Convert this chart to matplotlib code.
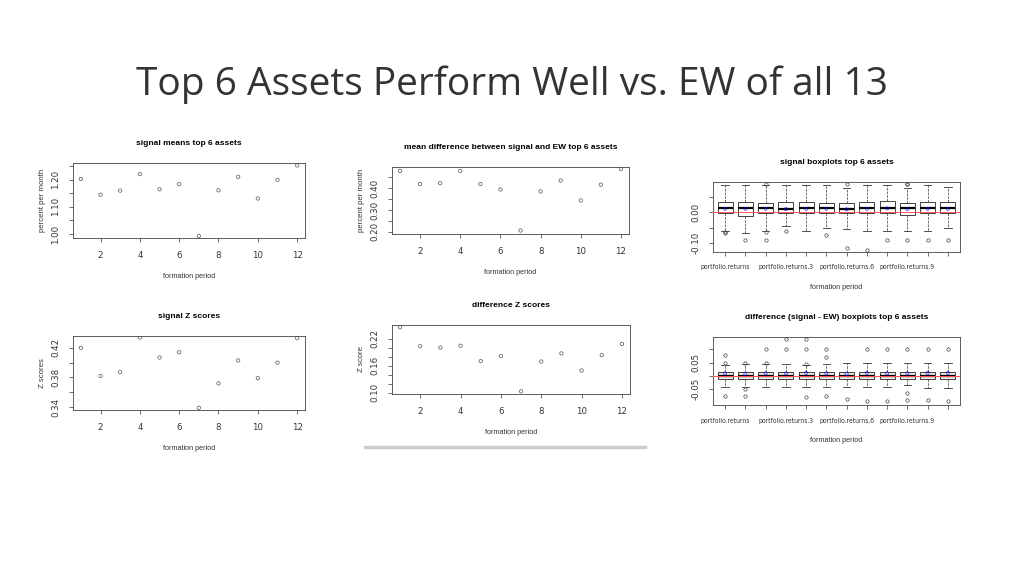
import matplotlib
matplotlib.use("Agg")
import matplotlib.pyplot as plt
import numpy as np

periods = list(range(1, 13))
signal_means = [1.203, 1.145, 1.160, 1.221, 1.165, 1.184, 0.993, 1.161, 1.211, 1.131, 1.200, 1.253]
mean_diff = [0.479, 0.419, 0.423, 0.479, 0.419, 0.394, 0.206, 0.385, 0.435, 0.344, 0.416, 0.488]
signal_z = [0.420, 0.382, 0.387, 0.434, 0.407, 0.414, 0.339, 0.372, 0.403, 0.379, 0.400, 0.433]
diff_z = [0.245, 0.203, 0.200, 0.204, 0.170, 0.181, 0.103, 0.169, 0.187, 0.149, 0.183, 0.208]

box_labels = ["portfolio.returns", "", "", "portfolio.returns.3", "", "", "portfolio.returns.6", "", "",
              "portfolio.returns.9", "", ""]
# signal boxplot stats
s_q1 = [-0.002, -0.012, -0.003, -0.003, -0.003, -0.003, -0.003, -0.003, -0.003, -0.010, -0.003, -0.003]
s_med = [0.013, 0.014, 0.013, 0.010, 0.012, 0.012, 0.011, 0.015, 0.013, 0.012, 0.012, 0.012]
s_q3 = [0.033, 0.033, 0.031, 0.032, 0.032, 0.030, 0.030, 0.032, 0.036, 0.030, 0.033, 0.032]
s_lo = [-0.062, -0.068, -0.060, -0.045, -0.062, -0.050, -0.055, -0.062, -0.062, -0.062, -0.062, -0.050]
s_hi = [0.088, 0.088, 0.088, 0.088, 0.088, 0.088, 0.078, 0.088, 0.088, 0.078, 0.088, 0.080]
s_mean = [0.011, 0.011, 0.011, 0.010, 0.011, 0.011, 0.009, 0.011, 0.012, 0.010, 0.011, 0.011]
s_fliers = [[-0.063, -0.066], [-0.088], [-0.063, -0.088, 0.092], [-0.062], [], [-0.072],
            [0.092, -0.115], [-0.120], [-0.088], [-0.088, 0.092, 0.089], [-0.088], [-0.088]]
# difference boxplot stats
d_q1 = [-0.012, -0.012, -0.012, -0.012, -0.012, -0.012, -0.012, -0.012, -0.012, -0.012, -0.012, -0.012]
d_med = [0.002, 0.002, 0.002, 0.002, 0.002, 0.001, 0.001, 0.002, 0.002, 0.001, 0.002, 0.002]
d_q3 = [0.015, 0.015, 0.015, 0.015, 0.015, 0.014, 0.014, 0.015, 0.015, 0.015, 0.016, 0.016]
d_lo = [-0.040, -0.040, -0.040, -0.040, -0.040, -0.040, -0.040, -0.040, -0.040, -0.035, -0.045, -0.045]
d_hi = [0.040, 0.045, 0.045, 0.045, 0.040, 0.045, 0.050, 0.050, 0.050, 0.050, 0.050, 0.050]
d_mean = [0.010, 0.008, 0.010, 0.010, 0.012, 0.010, 0.008, 0.012, 0.010, 0.010, 0.012, 0.012]
d_fliers = [[0.080, 0.050, -0.075], [0.050, -0.050, -0.075], [0.100, 0.050], [0.140, 0.100],
            [0.140, 0.100, 0.045, -0.080], [0.100, 0.070, -0.075], [-0.085], [0.100, -0.095],
            [0.100, -0.095], [0.100, -0.065, -0.090], [0.100, -0.090], [0.100, -0.095]]

W, H = 1024, 576
fig = plt.figure(figsize=(W / 100, H / 100), dpi=100)
fig.text(0.5, 1 - 85 / H, "Top 6 Assets Perform Well vs. EW of all 13", ha="center", va="center",
         fontsize=28, family="Open Sans", fontweight="normal", color="#333333")

FS = 5.2
FN = "Liberation Sans"


def mkax(l, r, t, b):
    return fig.add_axes([l / W, 1 - b / H, (r - l) / W, (b - t) / H])


def style(ax, title, ylabel, xlabel):
    ax.set_title(title, fontsize=FS + 0.8, fontweight="bold", family=FN, pad=13)
    ax.set_ylabel(ylabel, fontsize=FS + 0.4, family=FN, color="#333")
    ax.set_xlabel(xlabel, fontsize=FS, family=FN, color="#333", labelpad=10)
    for s in ax.spines.values():
        s.set_linewidth(0.6)
        s.set_color("#444")
    ax.tick_params(labelsize=FS + 1.0, width=0.5, length=3, colors="#333", pad=6)
    for lab in ax.get_yticklabels():
        lab.set_rotation(90)
        lab.set_va("center")


def scatter_panel(box, vals, title, ylabel, yticks, ylabels, ylim):
    ax = mkax(*box)
    ax.scatter(periods, vals, s=6, facecolors="none", edgecolors="#555", linewidths=0.5)
    ax.set_xlim(0.6, 12.4)
    ax.set_ylim(*ylim)
    ax.set_xticks([2, 4, 6, 8, 10, 12])
    ax.set_yticks(yticks)
    ax.set_yticklabels(ylabels)
    style(ax, title, ylabel, "formation period")
    return ax


scatter_panel((73, 305, 163, 238), signal_means, "signal means top 6 assets", "percent per month",
              [1.00, 1.05, 1.10, 1.15, 1.20, 1.25], ["1.00", "", "1.10", "", "1.20", ""], (0.985, 1.262))
scatter_panel((392, 629, 167, 234), mean_diff, "mean difference between signal and EW top 6 assets",
              "percent per month", [0.20, 0.25, 0.30, 0.35, 0.40, 0.45], ["0.20", "", "0.30", "", "0.40", ""],
              (0.19, 0.497))
scatter_panel((73, 305, 336, 410), signal_z, "signal Z scores", "Z scores",
              [0.34, 0.36, 0.38, 0.40, 0.42], ["0.34", "", "0.38", "", "0.42"], (0.336, 0.436))
ax4 = scatter_panel((392, 630, 325, 394), diff_z, "difference Z scores", "Z score",
                    [0.10, 0.12, 0.14, 0.16, 0.18, 0.20, 0.22],
                    ["0.10", "", "", "0.16", "", "", "0.22"], (0.097, 0.25))
fig.add_artist(plt.Line2D([365 / W, 645 / W], [1 - 447 / H] * 2, color="#cccccc", lw=2.5))


def box_panel(box, q1, med, q3, lo, hi, fl, mn, title, yticks, ylabels, ylim, fill):
    ax = mkax(*box)
    stats = []
    for i in range(12):
        stats.append(dict(q1=q1[i], med=med[i], q3=q3[i], whislo=lo[i], whishi=hi[i], fliers=fl[i], label=box_labels[i]))
    ax.bxp(stats, positions=periods, widths=0.75, showfliers=True, patch_artist=True,
           boxprops=dict(lw=0.6, edgecolor="#222", facecolor=fill), medianprops=dict(lw=1.6, color="black"),
           whiskerprops=dict(lw=0.5, ls="--", color="#333"), capprops=dict(lw=0.6, color="#333"),
           flierprops=dict(marker="o", markersize=2.4, markerfacecolor="none", markeredgecolor="#444",
                           markeredgewidth=0.5))
    ax.scatter(periods, mn, s=5, facecolors="none", edgecolors="blue", linewidths=0.4, zorder=5)
    ax.axhline(0, color="#ff5555", lw=0.7, zorder=4)
    ax.set_xlim(0.4, 12.6)
    ax.set_ylim(*ylim)
    ax.set_yticks(yticks)
    ax.set_yticklabels(ylabels)
    style(ax, title, "", "formation period")
    ax.tick_params(axis="x", labelsize=FS - 0.3)
    for lab in ax.get_xticklabels():
        lab.set_fontstretch("condensed")
    return ax


box_panel((713, 960, 182, 252), s_q1, s_med, s_q3, s_lo, s_hi, s_fliers, s_mean,
          "signal boxplots top 6 assets", [-0.10, -0.05, 0.0, 0.05], ["-0.10", "", "0.00", ""], (-0.128, 0.097),
          "white")
box_panel((713, 960, 337, 405), d_q1, d_med, d_q3, d_lo, d_hi, d_fliers, d_mean,
          "difference (signal - EW) boxplots top 6 assets", [-0.05, 0.0, 0.05, 0.10],
          ["-0.05", "", "0.05", ""], (-0.109, 0.147), "#f2e6e6")

fig.savefig("out.png", dpi=100)
